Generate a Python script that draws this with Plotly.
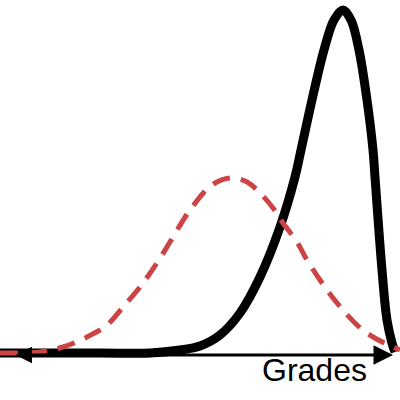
import plotly.graph_objects as go

# Grade positions (0-100) and curve heights
grades_black = [0, 25, 37.5, 45, 50, 55, 60, 65, 70, 73.75, 75.25, 78, 81, 83.5, 85.75, 87.75, 89.75, 91.75, 93.25, 93.75, 95.5, 96.75, 98, 98.75]
height_black = [2, 2, 2, 5, 9, 20, 42, 78, 128, 178, 205, 255, 305, 335, 345, 335, 305, 255, 205, 178, 85, 35, 12, 3]

grades_red = [0, 2.5, 10, 15.75, 21.75, 26.75, 30.75, 35, 39.25, 43.25, 47.5, 53, 57.5, 61.75, 65, 68.25, 70.75, 74.25, 76.75, 80, 83.25, 85.75, 89.25, 93.25, 98.25, 100]
height_red = [2, 2, 3, 8, 18, 30, 48, 68, 92, 118, 145, 170, 177, 173, 162, 147, 132, 113, 95, 75, 57, 45, 30, 18, 8, 5]

axis_label = "Grades"

fig = go.Figure()
fig.add_trace(go.Scatter(x=grades_black, y=height_black, mode="lines",
                         line=dict(color="black", width=9, shape="spline", smoothing=1),
                         hoverinfo="skip"))
fig.add_trace(go.Scatter(x=grades_red, y=height_red, mode="lines",
                         line=dict(color="#cc4444", width=5, dash="18px,11px", shape="spline", smoothing=1),
                         hoverinfo="skip"))

# double-headed axis arrow
fig.add_annotation(x=98.25, y=0, ax=3.5, ay=0, xref="x", yref="y", axref="x", ayref="y",
                   text="", showarrow=True, arrowside="end+start",
                   arrowhead=2, startarrowhead=2, arrowsize=1.3, startarrowsize=1.1,
                   arrowwidth=3, arrowcolor="black", standoff=0, startstandoff=0)

fig.add_annotation(x=78.5, y=-15, text=axis_label, showarrow=False, xref="x", yref="y",
                   xanchor="center", yanchor="middle",
                   font=dict(family="Liberation Sans, Arial, sans-serif", size=32, color="black"))

fig.update_layout(width=400, height=400, margin=dict(l=0, r=0, t=0, b=0),
                  paper_bgcolor="white", plot_bgcolor="white", showlegend=False,
                  hovermode=False,
                  xaxis=dict(range=[0, 100], visible=False),
                  yaxis=dict(range=[-45, 355], visible=False))

fig.write_html("out.html", config={"displayModeBar": False, "staticPlot": True},
               post_script="document.body.style.margin='0';")
